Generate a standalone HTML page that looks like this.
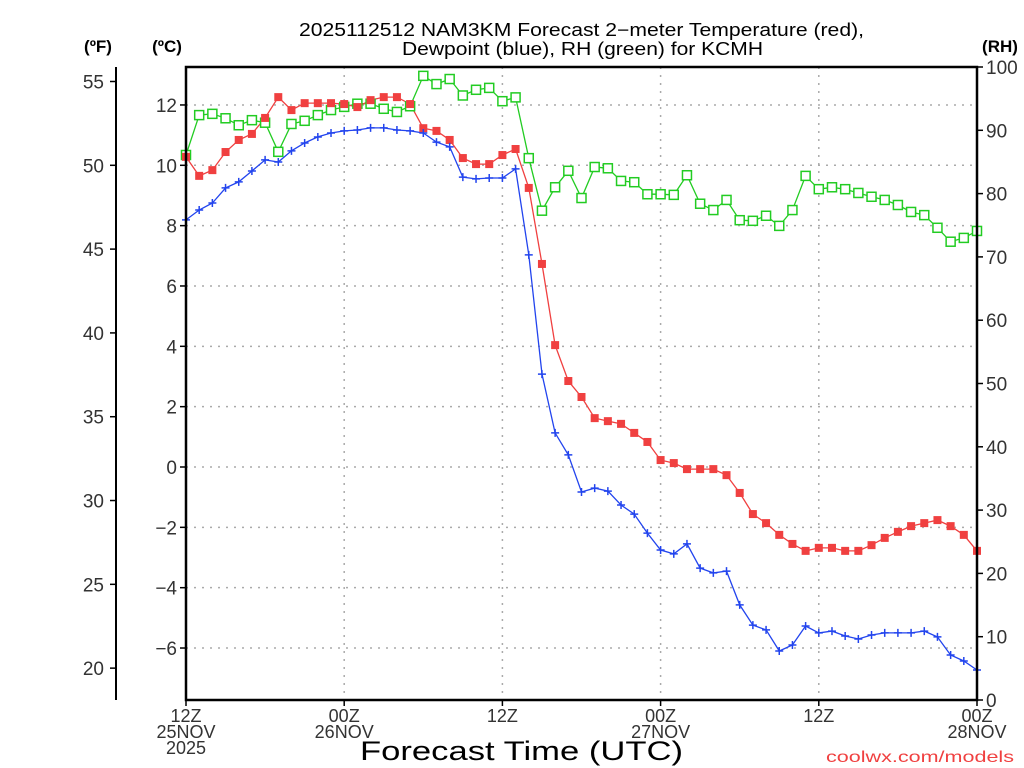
<!DOCTYPE html>
<html><head><meta charset="utf-8"><style>
html,body{margin:0;padding:0;background:#fff;}
svg{display:block;font-family:"Liberation Sans","DejaVu Sans",sans-serif;}
</style></head><body>
<svg id="chart" width="1024" height="768" viewBox="0 0 1024 768" xmlns="http://www.w3.org/2000/svg">
<rect width="1024" height="768" fill="#fff"/>
<text x="299" y="36" font-size="18" textLength="565" lengthAdjust="spacingAndGlyphs" fill="#000">2025112512 NAM3KM Forecast 2&#8722;meter Temperature (red),</text>
<text x="402" y="55" font-size="18" textLength="361" lengthAdjust="spacingAndGlyphs" fill="#000">Dewpoint (blue), RH (green) for KCMH</text>
<text x="98" y="52" font-size="17" font-weight="bold" text-anchor="middle">(ºF)</text>
<text x="167" y="52" font-size="17" font-weight="bold" text-anchor="middle">(ºC)</text>
<text x="1000" y="52" font-size="17" font-weight="bold" text-anchor="middle">(RH)</text>
<g id="grid"></g>
<g id="axes"></g>
<g id="series"></g>
<rect x="186" y="67" width="791" height="633" fill="none" stroke="#000" stroke-width="2.5"/>
<text x="360" y="760" font-size="27" textLength="323" lengthAdjust="spacingAndGlyphs" fill="#000">Forecast Time (UTC)</text>
<text x="826" y="762" font-size="16" textLength="188" lengthAdjust="spacingAndGlyphs" fill="#f04040">coolwx.com/models</text>
</svg>
<script>
const hours = Array.from({length:61},(_,i)=>i);
const tempC = [10.28,9.65,9.84,10.44,10.84,11.04,11.57,12.26,11.83,12.06,12.06,12.06,12.03,11.93,12.16,12.26,12.26,12.03,11.23,11.14,10.84,10.24,10.04,10.04,10.34,10.54,9.25,6.73,4.04,2.85,2.32,1.62,1.52,1.43,1.13,0.83,0.23,0.13,-0.07,-0.07,-0.07,-0.27,-0.86,-1.56,-1.86,-2.25,-2.55,-2.78,-2.68,-2.68,-2.78,-2.78,-2.59,-2.35,-2.15,-1.96,-1.86,-1.76,-1.96,-2.25,-2.78];
const dewC = [8.19,8.52,8.75,9.25,9.45,9.81,10.18,10.11,10.48,10.74,10.94,11.07,11.14,11.17,11.24,11.24,11.17,11.14,11.07,10.77,10.61,9.61,9.55,9.58,9.58,9.88,7.03,3.08,1.13,0.40,-0.83,-0.70,-0.80,-1.26,-1.56,-2.19,-2.75,-2.88,-2.55,-3.35,-3.51,-3.45,-4.57,-5.24,-5.40,-6.10,-5.90,-5.27,-5.50,-5.44,-5.60,-5.70,-5.57,-5.50,-5.50,-5.50,-5.44,-5.63,-6.23,-6.43,-6.73];
const rh = [86.1,92.4,92.6,91.9,90.8,91.6,91.2,86.6,91.0,91.5,92.4,93.2,93.7,94.2,94.2,93.4,92.9,93.8,98.6,97.3,98.1,95.5,96.4,96.7,94.6,95.2,85.6,77.3,81.0,83.6,79.3,84.2,84.0,82.0,81.8,79.9,79.9,79.8,82.9,78.4,77.4,79.0,75.8,75.7,76.5,74.9,77.4,82.8,80.7,81.0,80.7,80.1,79.5,79.0,78.2,77.1,76.6,74.6,72.4,73.0,74.1];
const cTicks = [-6,-4,-2,0,2,4,6,8,10,12];
const fTicks = [20,25,30,35,40,45,50,55];
const rhTicks = [0,10,20,30,40,50,60,70,80,90,100];
const xTickHours = [0,12,24,36,48,60];
const xTickLabels = [["12Z","25NOV","2025"],["00Z","26NOV"],["12Z"],["00Z","27NOV"],["12Z"],["00Z","28NOV"]];

const X0=186,X1=977,Y0=67,Y1=700;
const xs=h=>X0+(h/60)*(X1-X0);
const yC=c=>467-c*30.17;
const yF=f=>yC((f-32)/1.8);
const yRH=r=>Y1-(r/100)*(Y1-Y0);
const NS="http://www.w3.org/2000/svg";
function mk(tag,attrs,parent){const e=document.createElementNS(NS,tag);for(const k in attrs)e.setAttribute(k,attrs[k]);parent.appendChild(e);return e;}
const grid=document.getElementById('grid'),axes=document.getElementById('axes'),ser=document.getElementById('series');

cTicks.forEach(c=>{
  const y=yC(c);
  const g=mk('line',{x1:X0,x2:X1,y1:y,y2:y,stroke:'#aaa','stroke-width':1.5,'stroke-dasharray':'2,6'},grid);
  
  
  const t=mk('line',{x1:X0-6,x2:X0,y1:y,y2:y,stroke:'#000','stroke-width':1.5},axes);
  
  
  const l=mk('text',{x:X0-9,y:y+7,'font-size':19,'text-anchor':'end',fill:'#333'},axes);
  l.textContent=c<0?'\u2212'+(-c):String(c);
  
  
});
const fl=mk('line',{x1:116,x2:116,y1:Y0,y2:Y1,stroke:'#000','stroke-width':2},axes);


fTicks.forEach(f=>{
  const y=yF(f);
  const t=mk('line',{x1:110,x2:116,y1:y,y2:y,stroke:'#000','stroke-width':1.5},axes);
  
  
  const l=mk('text',{x:104,y:y+7,'font-size':19,'text-anchor':'end',fill:'#333'},axes);
  l.textContent=String(f);
  
  
});
rhTicks.forEach(r=>{
  const y=yRH(r);
  const t=mk('line',{x1:X1,x2:X1+6,y1:y,y2:y,stroke:'#000','stroke-width':1.5},axes);
  
  
  const l=mk('text',{x:X1+9,y:y+7,'font-size':19,'text-anchor':'start',fill:'#333'},axes);
  l.textContent=String(r);
  
  
});
xTickHours.forEach((h,i)=>{
  const x=xs(h);
  if(h>0&&h<60){
    const g=mk('line',{x1:x,x2:x,y1:Y0,y2:Y1,stroke:'#aaa','stroke-width':1.5,'stroke-dasharray':'2,6'},grid);
    
    
  }
  const t=mk('line',{x1:x,x2:x,y1:Y1,y2:Y1+6,stroke:'#000','stroke-width':1.5},axes);
  
  
  xTickLabels[i].forEach((s,j)=>{
    const l=mk('text',{x:x,y:722+j*16,'font-size':18,'text-anchor':'middle',fill:'#333'},axes);
    l.textContent=s;
    
    
  });
});

function series(vals,yfn,color,name){
  const pts=vals.map((v,i)=>xs(hours[i]).toFixed(1)+','+yfn(v).toFixed(1)).join(' ');
  const p=mk('polyline',{points:pts,fill:'none',stroke:color,'stroke-width':1.3},ser);
  
  
}
series(rh,yRH,'#22cc22','rh');
series(tempC,yC,'#f04040','temperature');
series(dewC,yC,'#2244ee','dewpoint');
rh.forEach((v,i)=>{
  const x=xs(hours[i]),y=yRH(v);
  const m=mk('rect',{x:x-4.5,y:y-4.5,width:9,height:9,fill:'#fff',stroke:'#22cc22','stroke-width':1.5},ser);
  
  
});
tempC.forEach((v,i)=>{
  const x=xs(hours[i]),y=yC(v);
  const m=mk('rect',{x:x-4,y:y-4,width:8,height:8,fill:'#f04040'},ser);
  
  
});
dewC.forEach((v,i)=>{
  const x=xs(hours[i]),y=yC(v);
  const m=mk('path',{d:`M${x-4},${y}H${x+4}M${x},${y-4}V${y+4}`,stroke:'#2244ee','stroke-width':1.5,fill:'none'},ser);
  
  
});
</script>
</body></html>
